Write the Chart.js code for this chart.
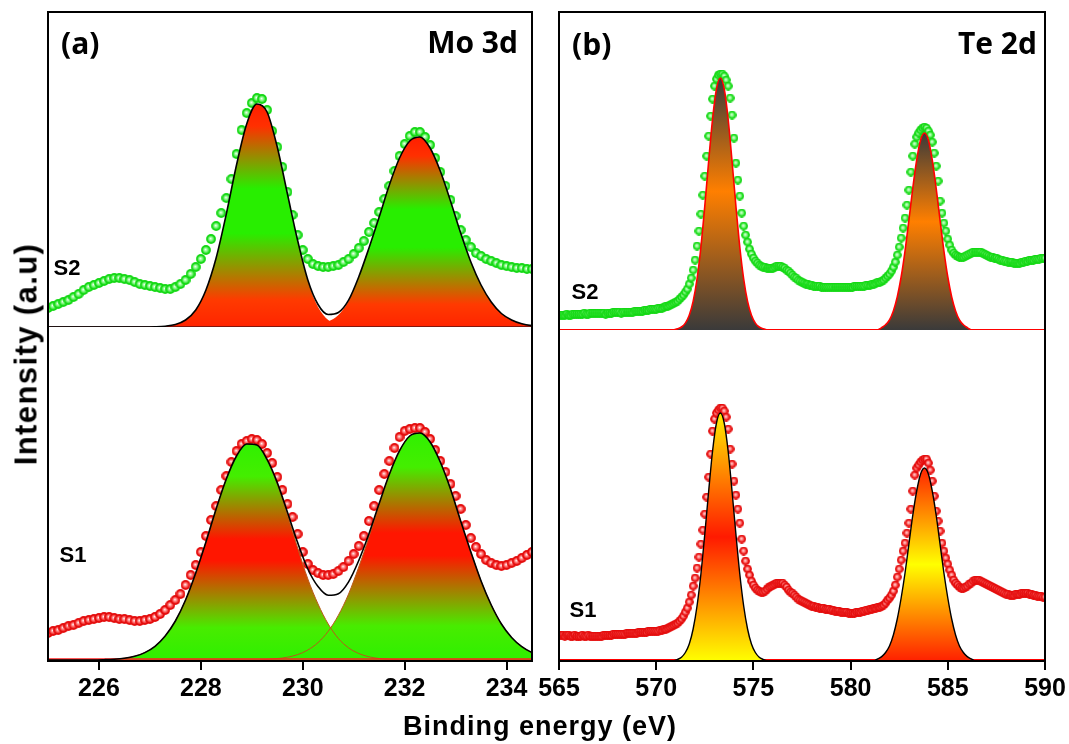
<!DOCTYPE html>
<html>
<head>
<meta charset="utf-8">
<title>XPS Mo 3d / Te 2d</title>
<script src="https://cdn.jsdelivr.net/npm/chart.js"></script>
<style>
  body { margin: 0; background: #fff; }
  #wrap { position: relative; width: 1069px; height: 744px; overflow: hidden; }
  canvas { position: absolute; top: 0; }
  .t { position: absolute; white-space: nowrap; line-height: 1; color: #000; font-weight: 700; z-index: 2; }
  .big { font-family: "Open Sans", sans-serif; font-size: 30px; transform: translateY(-50%); }
  .big.r { transform: translate(-100%, -50%); }
  .s { font-family: "Liberation Sans", Arial, sans-serif; font-size: 22px; transform: translate(-50%, -50%); }
  .ax { font-family: "Liberation Sans", Arial, sans-serif; }
</style>
</head>
<body>
<div id="wrap">
  <canvas id="moChart" width="540" height="744" style="left:0"></canvas>
  <canvas id="teChart" width="537" height="744" style="left:532px"></canvas>

  <div class="t big" style="left:61px;top:43px">(a)</div>
  <div class="t big r" style="left:518px;top:42px">Mo 3d</div>
  <div class="t big" style="left:572px;top:44px">(b)</div>
  <div class="t big r" style="left:1037px;top:43px">Te 2d</div>

  <div class="t s" style="left:67px;top:268px">S2</div>
  <div class="t s" style="left:73px;top:555px">S1</div>
  <div class="t s" style="left:585px;top:292px">S2</div>
  <div class="t s" style="left:583px;top:610px">S1</div>

  <div class="t ax" style="left:540px;top:726px;font-size:27px;letter-spacing:1px;transform:translate(-50%,-50%)">Binding energy (eV)</div>
  <div class="t ax" style="left:26px;top:354px;font-size:31px;letter-spacing:1.4px;transform:translate(-50%,-50%) rotate(-90deg)">Intensity (a.u)</div>
</div>

<script>
// ---- tick labels ----
const moTicks = [226, 228, 230, 232, 234];
const teTicks = [565, 570, 575, 580, 585, 590];

// ---- Mo 3d measured data, 225.0 .. 234.5 eV, 0.1 eV step ----
const moStart = 225.0;
const moS2 = [
  19, 21, 23, 25, 27, 30, 33, 37, 40, 42,
  44, 46, 48, 49, 49, 48, 47, 45, 43, 42,
  41, 40, 39, 38, 38, 40, 43, 47, 53, 60,
  68, 77, 88, 101, 114, 129, 148, 173, 197, 214,
  224, 229, 228, 217, 196, 180, 160, 135, 112, 92,
  77, 68, 63, 61, 60, 60, 61, 62, 65, 68,
  73, 79, 86, 95, 104, 115, 128, 141, 156, 171,
  183, 191, 195, 195, 190, 182, 169, 155, 141, 127,
  111, 97, 87, 80, 74, 71, 68, 66, 64, 62,
  61, 60, 59, 59, 58, 58
];
const moS1 = [
  27, 29, 30, 32, 34, 35, 37, 39, 40, 41,
  42, 43, 43, 42, 41, 41, 40, 39, 39, 40,
  41, 43, 46, 50, 55, 60, 66, 75, 85, 95,
  108, 124, 140, 154, 170, 184, 198, 209, 216, 219,
  221, 220, 216, 207, 197, 183, 170, 156, 143, 126,
  108, 96, 90, 87, 85, 85, 86, 89, 93, 99,
  106, 114, 124, 139, 154, 170, 186, 199, 212, 223,
  229, 231, 232, 232, 228, 221, 210, 199, 188, 176,
  164, 151, 135, 122, 113, 106, 100, 97, 95, 94,
  95, 97, 99, 102, 105, 108
];

// ---- Mo 3d fitted components, 224.9 .. 234.7 eV, 0.2 eV step ----
const moFitStart = 224.9;
const moS2Peak1 = [
  0, 0, 0, 0, 0, 0, 0, 0, 0, 0,
  0, 0.2, 0.8, 2.5, 7, 17, 37, 69, 113, 162,
  203, 223, 215, 180, 133, 86, 46, 20, 7, 2.5,
  0.8, 0.2, 0, 0, 0, 0, 0, 0, 0, 0,
  0, 0, 0, 0, 0, 0, 0, 0, 0, 0
];
const moS2Peak2 = [
  0, 0, 0, 0, 0, 0, 0, 0, 0, 0,
  0, 0, 0, 0, 0, 0, 0, 0, 0, 0,
  0, 0, 0, 0, 0, 0.5, 1, 2.5, 5.5, 12,
  26, 50, 79, 110, 142, 169, 186, 190, 179, 156,
  126, 94, 65, 42, 25, 13.5, 7, 3.2, 1.4, 0.6
];
const moS1Peak1 = [
  0, 0, 0, 0, 0, 0, 0.3, 0.8, 1.8, 3.7,
  7.4, 13.7, 24, 39, 60, 87, 118, 151, 181, 204,
  216, 215, 200, 176, 145, 112, 81, 56, 36, 21.5,
  12.2, 6.5, 3.2, 1.5, 0.7, 0.3, 0, 0, 0, 0,
  0, 0, 0, 0, 0, 0, 0, 0, 0, 0
];
const moS1Peak2 = [
  0, 0, 0, 0, 0, 0, 0, 0, 0, 0,
  0, 0, 0, 0, 0, 0, 0, 0, 0, 0,
  0, 0, 0.6, 1.4, 2.8, 5.4, 10, 17.4, 28.7, 44.8,
  66, 93, 123, 155, 185, 209, 224, 227, 218, 198,
  171, 139, 108, 79, 55, 36, 22.5, 13.3, 7.4, 3.9
];

// ---- Te 2d measured data, 565.0 .. 590.0 eV, 0.1 eV step ----
const teStart = 565.0;
const teS2 = [
  15, 15, 15, 15, 16, 15, 15, 16, 16, 16,
  16, 16, 16, 17, 16, 16, 17, 17, 17, 17,
  17, 17, 17, 17, 16, 17, 17, 17, 18, 18,
  18, 18, 17, 18, 18, 18, 18, 18, 18, 19,
  19, 19, 19, 19, 20, 20, 20, 21, 21, 21,
  21, 22, 22, 22, 23, 24, 24, 25, 26, 27,
  28, 29, 31, 33, 35, 38, 41, 46, 52, 60,
  70, 84, 99, 116, 135, 154, 174, 194, 214, 231,
  244, 251, 255, 256, 256, 254, 250, 244, 232, 215,
  192, 167, 150, 134, 117, 104, 95, 88, 81, 76,
  72, 69, 67, 65, 64, 63, 63, 62, 62, 62,
  62, 63, 64, 64, 64, 63, 62, 60, 59, 57,
  55, 53, 52, 50, 49, 48, 47, 46, 46, 45,
  45, 44, 44, 44, 44, 43, 43, 43, 43, 43,
  43, 43, 43, 43, 43, 43, 43, 43, 43, 43,
  43, 43, 44, 44, 44, 44, 44, 44, 45, 45,
  45, 46, 46, 47, 48, 48, 49, 50, 52, 54,
  56, 59, 63, 68, 75, 83, 92, 102, 112, 125,
  140, 158, 174, 186, 193, 197, 200, 202, 203, 202,
  199, 195, 188, 177, 164, 149, 129, 117, 107, 99,
  91, 85, 80, 77, 75, 74, 73, 73, 73, 74,
  75, 76, 77, 78, 78, 78, 78, 78, 77, 76,
  75, 74, 73, 73, 72, 72, 71, 70, 70, 69,
  69, 68, 68, 68, 67, 67, 67, 67, 68, 68,
  69, 69, 70, 70, 70, 71, 71, 71, 72, 72,
  72
];
const teS1 = [
  26, 26, 26, 25, 26, 26, 25, 25, 26, 25,
  25, 25, 26, 25, 25, 26, 25, 25, 25, 25,
  25, 25, 25, 26, 26, 26, 26, 26, 27, 27,
  27, 27, 27, 27, 27, 28, 28, 28, 28, 28,
  28, 29, 29, 29, 29, 29, 30, 30, 30, 30,
  30, 30, 31, 31, 32, 32, 33, 34, 35, 36,
  37, 38, 40, 42, 45, 49, 53, 59, 66, 75,
  83, 93, 104, 117, 131, 147, 164, 184, 207, 230,
  242, 248, 251, 253, 253, 250, 244, 232, 212, 197,
  180, 166, 152, 138, 122, 110, 100, 92, 86, 80,
  76, 73, 71, 70, 69, 69, 70, 72, 74, 75,
  76, 77, 78, 78, 78, 78, 76, 74, 71, 69,
  68, 66, 64, 62, 61, 60, 59, 58, 57, 56,
  55, 55, 54, 54, 53, 53, 53, 52, 52, 52,
  51, 51, 50, 50, 50, 49, 49, 49, 49, 48,
  48, 48, 48, 49, 49, 49, 50, 50, 51, 51,
  52, 52, 53, 53, 54, 54, 55, 56, 58, 61,
  63, 66, 70, 76, 84, 92, 101, 110, 118, 128,
  138, 152, 170, 186, 193, 196, 199, 201, 202, 202,
  198, 191, 180, 165, 150, 140, 130, 118, 110, 103,
  97, 91, 86, 81, 78, 76, 74, 73, 73, 74,
  75, 77, 78, 80, 81, 81, 81, 80, 79, 78,
  77, 76, 75, 74, 73, 72, 71, 70, 69, 68,
  67, 67, 66, 66, 66, 67, 67, 67, 68, 68,
  68, 68, 67, 67, 66, 66, 65, 65, 65, 64,
  64
];

// ---- Te 2d fitted components, 0.2 eV step ----
const teS2Peak1Start = 570.9;
const teS2Peak1 = [0, 1.2, 3, 6.9, 14.7, 28.6, 51, 83, 124, 169, 211, 241, 252, 241, 211, 169, 124, 83, 51, 28.6, 14.7, 6.9, 3, 1.2, 0];
const teS2Peak2Start = 581.4;
const teS2Peak2 = [0, 2.4, 5.2, 10, 19, 33, 53, 79, 110, 142, 170, 190, 197, 190, 170, 142, 110, 79, 53, 33, 19, 10, 5.2, 2.4, 0];
const teS1Peak1Start = 570.9;
const teS1Peak1 = [0, 1.6, 3.8, 8.5, 17, 32, 55, 87, 127, 170, 210, 238, 248, 238, 210, 170, 127, 87, 55, 32, 17, 8.5, 3.8, 1.6, 0];
const teS1Peak2Start = 581.2;
const teS1Peak2 = [0, 2.1, 4.4, 8.5, 15, 26, 42, 63, 88, 117, 146, 170, 187, 193, 187, 170, 146, 117, 88, 63, 42, 26, 15, 8.5, 4.4, 2.1, 0];

// ---- helpers ----
function pts(start, step, values) {
  return values.map((y, i) => ({ x: Math.round((start + i * step) * 100) / 100, y: y }));
}

// shaded ring used as the marker
function ball(size, edge, body, shine) {
  const c = document.createElement('canvas');
  c.width = size;
  c.height = size;
  const g = c.getContext('2d');
  const r = size / 2;
  g.fillStyle = edge;
  g.beginPath();
  g.arc(r, r, r - 0.1, 0, Math.PI * 2);
  g.fill();
  const grad = g.createRadialGradient(r - 0.5, r - 0.5, 0, r, r, r - 1.3);
  grad.addColorStop(0, shine);
  grad.addColorStop(0.55, body);
  grad.addColorStop(1, edge);
  g.fillStyle = grad;
  g.beginPath();
  g.arc(r, r, r - 1.3, 0, Math.PI * 2);
  g.fill();
  return c;
}
const greenBall = ball(10, '#14d814', '#7af77a', '#f4fff4');
const redBall = ball(10, '#e40c0c', '#ff6a6a', '#fff0f0');
const greenBallSm = ball(9, '#14d814', '#7af77a', '#f4fff4');
const redBallSm = ball(9, '#e40c0c', '#ff6a6a', '#fff0f0');

// vertical gradient from the baseline to the top of each peak
function peakGradient(stops) {
  return function (ctx) {
    const chart = ctx.chart;
    const ds = ctx.dataset;
    const scale = ds && chart.scales[ds.yAxisID];
    if (!scale || !chart.chartArea) return 'rgba(0,0,0,0)';
    const top = Math.max.apply(null, ds.data.map(p => p.y));
    const y0 = scale.getPixelForValue(0);
    const y1 = scale.getPixelForValue(top);
    if (!isFinite(y0) || !isFinite(y1) || y0 === y1) return stops[0][1];
    const g = chart.ctx.createLinearGradient(0, y0, 0, y1);
    stops.forEach(s => g.addColorStop(s[0], s[1]));
    return g;
  };
}

function fitLine(data, yAxisID, color, width) {
  return { data, yAxisID, borderColor: color, borderWidth: width, pointRadius: 0, fill: false,
           cubicInterpolationMode: 'monotone' };
}
function fitArea(data, yAxisID, stops, color, width) {
  return { data, yAxisID, backgroundColor: peakGradient(stops),
           borderColor: color || 'rgba(0,0,0,0)', borderWidth: width || 0.01,
           pointRadius: 0, fill: 'origin', cubicInterpolationMode: 'monotone' };
}
function dots(data, yAxisID, img) {
  return { data, yAxisID, showLine: false, pointStyle: img, pointRadius: 4.5, pointHoverRadius: 4.5,
           borderWidth: 0 };
}
function flat(x0, x1, v, yAxisID, color, width) {
  return { data: [{ x: x0, y: v }, { x: x1, y: v }], yAxisID, borderColor: color, borderWidth: width, pointRadius: 0 };
}

const frame = {
  id: 'frame',
  afterDatasetsDraw(chart) {
    const { ctx, chartArea: a } = chart;
    ctx.save();
    ctx.strokeStyle = '#000';
    ctx.lineWidth = 2;
    ctx.strokeRect(a.left, a.top, a.right - a.left, a.bottom - a.top);
    ctx.restore();
  }
};

function xAxis(min, max, ticks) {
  return {
    type: 'linear', min: min, max: max,
    afterBuildTicks: s => { s.ticks = ticks.map(v => ({ value: v })); },
    afterFit: s => { s.height = 83; s.paddingLeft = 0; s.paddingRight = 0; },
    ticks: { autoSkip: false, maxRotation: 0, color: '#000', padding: 4,
             font: { family: '"Liberation Sans", Arial, sans-serif', size: 25, weight: 'bold' },
             callback: v => String(v) },
    grid: { drawOnChartArea: false, drawTicks: true, tickLength: 9, color: '#000', lineWidth: 2 },
    border: { display: false }
  };
}
function yAxis(min, max, weightInStack, order) {
  return { type: 'linear', display: false, position: 'left', stack: 'v', stackWeight: weightInStack,
           weight: order, min: min, max: max };
}

function makeChart(id, datasets, scales, padding) {
  return new Chart(document.getElementById(id).getContext('2d'), {
    type: 'line',
    data: { datasets: datasets },
    options: {
      responsive: false,
      animation: false,
      devicePixelRatio: 1,
      layout: { padding: padding },
      plugins: { legend: { display: false }, tooltip: { enabled: false } },
      events: [],
      scales: scales
    },
    plugins: [frame]
  });
}

// ---- Mo 3d panel ----
const step1 = 0.1, step2 = 0.2;
const moS2Env = moS2Peak1.map((v, i) => v + moS2Peak2[i]);
const moS1Env = moS1Peak1.map((v, i) => v + moS1Peak2[i]);
const redGreenRed = [[0, '#ff2400'], [0.12, '#ff3a00'], [0.42, '#28ee00'], [0.62, '#28ee00'],
                     [0.9, '#ff3000'], [1, '#ff1e00']];
const greenRedGreen = [[0, '#2ef000'], [0.15, '#48ec00'], [0.46, '#ff1600'], [0.56, '#ff1600'],
                       [0.85, '#44ee00'], [1, '#30f000']];

makeChart('moChart', [
  fitLine(pts(moFitStart, step2, moS2Env), 'yTop', '#000', 1.6),
  fitLine(pts(moFitStart, step2, moS1Env), 'yBot', '#000', 1.6),
  flat(225, 234.5, 0, 'yTop', '#5a1212', 1.6),
  flat(225, 234.5, 1, 'yBot', '#ff2020', 1.5),
  fitLine(pts(moFitStart, step2, moS1Peak1), 'yBot', '#b85a1a', 1),
  fitArea(pts(moFitStart, step2, moS1Peak2), 'yBot', greenRedGreen, '#b85a1a', 1),
  fitArea(pts(moFitStart, step2, moS1Peak1), 'yBot', greenRedGreen),
  fitArea(pts(moFitStart, step2, moS2Peak1), 'yTop', redGreenRed),
  fitArea(pts(moFitStart, step2, moS2Peak2), 'yTop', redGreenRed),
  dots(pts(moStart, step1, moS2), 'yTop', greenBall),
  dots(pts(moStart, step1, moS1), 'yBot', redBall)
], {
  x: xAxis(225, 234.5, moTicks),
  yTop: yAxis(0, 315, 315, 1),
  yBot: yAxis(-1, 333, 334, 0)
}, { left: 48, top: 12, right: 8, bottom: 0 });

// ---- Te 2d panel ----
const grayOrangeGray = [[0, '#3a3a3a'], [0.55, '#ff7f00'], [1, '#3a3a3a']];
const yellowRedYellow = [[0, '#ffff00'], [0.5, '#ff1a00'], [1, '#ffee00']];
const redYellowRed = [[0, '#ff2000'], [0.5, '#ffff00'], [1, '#ff2400']];

makeChart('teChart', [
  fitArea(pts(teS2Peak1Start, step2, teS2Peak1), 'yTop', grayOrangeGray, '#ff0000', 1.6),
  fitArea(pts(teS2Peak2Start, step2, teS2Peak2), 'yTop', grayOrangeGray, '#ff0000', 1.6),
  fitArea(pts(teS1Peak1Start, step2, teS1Peak1), 'yBot', yellowRedYellow, '#000', 1.4),
  fitArea(pts(teS1Peak2Start, step2, teS1Peak2), 'yBot', redYellowRed, '#000', 1.4),
  flat(565, 590, 0, 'yTop', '#ff0000', 2),
  flat(565, 590, 1, 'yBot', '#ff0000', 2),
  dots(pts(teStart, step1, teS2), 'yTop', greenBallSm),
  dots(pts(teStart, step1, teS1), 'yBot', redBallSm)
], {
  x: xAxis(565, 590, teTicks),
  yTop: yAxis(0, 318, 318, 1),
  yBot: yAxis(0, 331, 331, 0)
}, { left: 27, top: 12, right: 24, bottom: 0 });
</script>
</body>
</html>
